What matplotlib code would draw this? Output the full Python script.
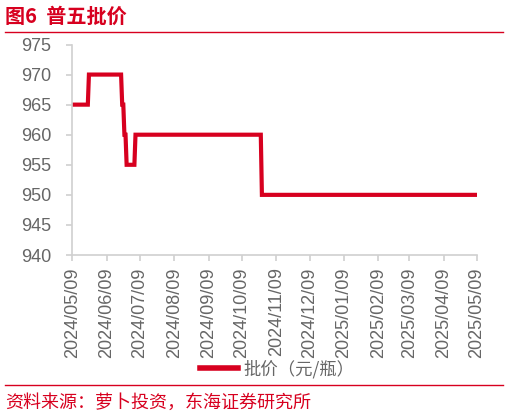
import matplotlib
matplotlib.use("Agg")
import matplotlib.pyplot as plt
import matplotlib.dates as mdates
from matplotlib.lines import Line2D
import pandas as pd

# Wholesale price of Wuliangye (普五), yuan per bottle.
dates = ['2024-05-09', '2024-05-23', '2024-05-24', '2024-06-22', '2024-06-23',
         '2024-06-24', '2024-06-25', '2024-06-26', '2024-06-27', '2024-07-04',
         '2024-07-05', '2024-10-26', '2024-10-27', '2025-05-09']
prices = [965, 965, 970, 970, 965, 965, 960, 960, 955, 955, 960, 960, 950, 950]
tick_dates = ['2024-05-09', '2024-06-09', '2024-07-09', '2024-08-09', '2024-09-09',
              '2024-10-09', '2024-11-09', '2024-12-09', '2025-01-09', '2025-02-09',
              '2025-03-09', '2025-04-09', '2025-05-09']
yticks = [940, 945, 950, 955, 960, 965, 970, 975]

title = '图6  普五批价'
series_name = '批价（元/瓶）'
source = '资料来源：萝卜投资，东海证券研究所'

RED = '#d7001f'
GRAY_TXT = '#666666'
GRAY_AX = '#d0d0d0'
CJK = ['Noto Sans CJK SC', 'DejaVu Sans']
LAT = ['Liberation Sans', 'DejaVu Sans']

x = pd.to_datetime(dates)

fig = plt.figure(figsize=(5.09, 4.17), dpi=100)
ax = fig.add_axes([72.3 / 509, 1 - 255 / 417, (477 - 72.3) / 509, (255 - 44.5) / 417])

ax.plot(x, prices, color=RED, lw=3, solid_joinstyle='miter')

ax.set_xlim(x[0], x[-1])
ax.set_ylim(940, 975)
ax.set_yticks(yticks)
ax.set_xticks(pd.to_datetime(tick_dates))
ax.xaxis.set_major_formatter(mdates.DateFormatter('%Y/%m/%d'))

for s in ['top', 'right']:
    ax.spines[s].set_visible(False)
for s in ['left', 'bottom']:
    ax.spines[s].set_color(GRAY_AX)
    ax.spines[s].set_linewidth(1.2)
ax.tick_params(axis='both', color=GRAY_AX, width=1.2, length=4, labelcolor=GRAY_TXT)
ax.tick_params(axis='y', labelsize=13, pad=11)
ax.tick_params(axis='x', labelsize=13, pad=5, labelrotation=90)
for lab in ax.get_xticklabels() + ax.get_yticklabels():
    lab.set_family(LAT)

# legend below the axis
handle = Line2D([], [], color=RED, lw=4)
fig.legend([handle], [series_name], loc='center', bbox_to_anchor=(277 / 509, 1 - 369 / 417),
           frameon=False, prop={'family': CJK, 'size': 12.5}, labelcolor=GRAY_TXT,
           handlelength=2.2, handletextpad=0.3)

# header / footer
fig.text(5 / 509, 1 - 16 / 417, title, color=RED, fontsize=14.5, fontweight='bold',
         family=CJK, ha='left', va='center')
fig.add_artist(Line2D([5 / 509, 503 / 509], [1 - 32.3 / 417] * 2, color=RED, lw=1))
fig.add_artist(Line2D([5 / 509, 503 / 509], [1 - 385 / 417] * 2, color=RED, lw=1))
fig.text(5 / 509, 1 - 403 / 417, source, color=RED, fontsize=13,
         family=CJK, ha='left', va='center')

fig.savefig('out.png', dpi=100)
